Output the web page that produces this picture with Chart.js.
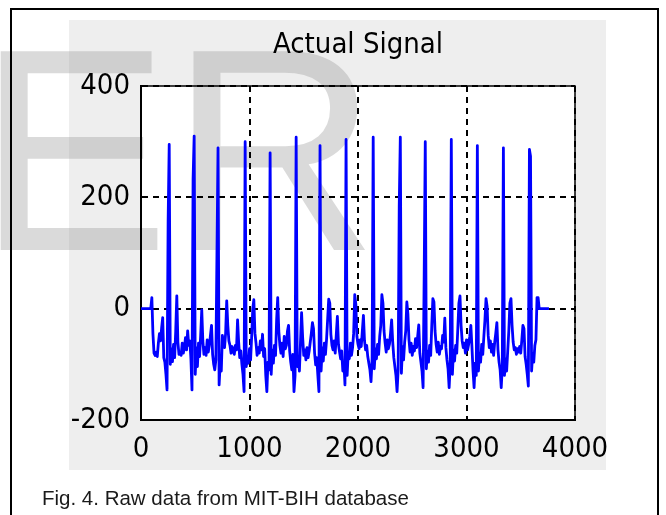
<!DOCTYPE html>
<html>
<head>
<meta charset="utf-8">
<title>Actual Signal</title>
<script src="https://cdn.jsdelivr.net/npm/chart.js@4"></script>
<style>
    html, body { margin: 0; padding: 0; background: #fff; }
    canvas { display: block; }
</style>
</head>
<body>
<canvas id="signalChart" width="666" height="515"></canvas>
<script>
'use strict';

/** Raw ECG record plot */

const SAMPLE_STEP = 10; // samples between stored points

// amplitude, one stored point every SAMPLE_STEP samples (one beat per row)
const signal = [
    0, 0, 0, 0, 0, 0, 0, 0, 0, 0, 20, -45, -80, -84, -78, -86, -62, -45, -58, -35, -16, -88, -96, -118, -146, 156,
    295, -100, -72, -95, -64, -88, -40, 23, -60, -82, -78, -84, -62, -80, -70, -52, -74, -40, -66, -58, -90, -146, 232,
    310, -118, -70, -104, -62, -86, -48, -2, -58, -82, -70, -84, -56, -78, -66, -48, -30, -82, -100, -110, -92, 97,
    289, -137, -98, -112, -48, -62, -70, -44, 14, -30, -58, -66, -80, -68, -76, -82, -66, -74, -20, -60, -88, -76, -100, -118, -149,
    300, -104, -88, -98, -72, -92, -50, 0, 16, -44, -62, -84, -70, -80, -58, -74, -46, -86, -72, -120, -149, -96, -110,
    280, -118, -74, -98, -66, -84, -20, 20, -40, -66, -80, -62, -86, -50, -72, -66, -40, -30, -76, -96, -110, -82, -149, -120,
    308, -104, -88, -112, -60, -7, -52, -84, -74, -92, -70, -88, -76, -60, -44, -25, -36, -80, -101, -88, -120, -149,
    293, -112, -70, -94, -62, -82, -56, -20, 17, 10, -46, -66, -74, -58, -80, -46, -14, -64, -78, -90, -76, -112, -96, -137,
    304, -120, -78, -90, -62, -84, -70, -44, 25, 8, -50, -64, -72, -56, -68, -40, -12, -58, -74, -66, -86, -98, -110, -131, -90,
    308, -108, -72, -90, -64, -82, -50, -30, 25, 10, -40, -62, -78, -56, -72, -64, -44, -20, -60, -88, -104, -120, -149, -110, 184,
    308, -116, -68, -92, -60, -40, 12, -10, -56, -78, -62, -84, -68, -76, -54, -70, -50, -29, -80, -96, -112, -142, 61,
    300, -108, -76, -96, -66, -84, -30, 18, 12, -40, -64, -78, -60, -82, -68, -72, -48, -60, -17, -70, -92, -108, -142, -100,
    304, -118, -74, -94, -66, -80, -36, 10, 23, -30, -58, -70, -62, -80, -56, -74, -64, -50, -30, -68, -110, -142, -98, -120,
    293, -112, -80, -96, -64, -82, -50, -20, 18, 4, -48, -70, -58, -78, -64, -84, -60, -44, -25, -74, -96, -110, -142, -104,
    289, -120, -90, -112, -76, -40, 10, 18, -30, -60, -74, -70, -82, -72, -78, -68, -80, -56, -30, -36, -86, -100, -118, -139,
    286, 274, -112, -80, -96, -66, -56, 20, 20, 0, 0, 0, 0, 0, 0, 0, 0, 0, 0,
];

const xTicks = [0, 1000, 2000, 3000, 4000];
const yTicks = [-200, 0, 200, 400];

const titleText = 'Actual Signal';
const captionText = 'Fig. 4. Raw data from MIT-BIH database';
const stampText = 'ER';

const axisFont = '"DejaVu Sans Condensed", "Liberation Sans", Arial, sans-serif';
const plainFont = '"Liberation Sans", Arial, sans-serif';

// page furniture: frame, grey panel, watermark, caption
const figureBackdrop = {
    id: 'figureBackdrop',
    beforeDraw(chart) {
        const { ctx, chartArea } = chart;
        ctx.save();
        ctx.fillStyle = '#ffffff';
        ctx.fillRect(0, 0, chart.width, chart.height);
        ctx.fillStyle = '#eeeeee';
        ctx.fillRect(69, 20, 537, 450);
        ctx.fillStyle = '#ffffff';
        ctx.fillRect(chartArea.left, chartArea.top, chartArea.right - chartArea.left, chartArea.bottom - chartArea.top);

        ctx.font = '289px ' + plainFont;
        ctx.fillStyle = 'rgba(150, 150, 150, 0.35)';
        ctx.textBaseline = 'alphabetic';
        ctx.fillText(stampText, -23, 250);

        ctx.strokeStyle = '#000';
        ctx.lineWidth = 2;
        ctx.beginPath();
        ctx.moveTo(11, chart.height);
        ctx.lineTo(11, 9);
        ctx.lineTo(658, 9);
        ctx.lineTo(658, chart.height);
        ctx.stroke();

        ctx.fillStyle = '#1a1a1a';
        ctx.font = '20.5px ' + plainFont;
        ctx.fillText(captionText, 42, 505);
        ctx.restore();
    },
    afterDatasetsDraw(chart) {
        const { ctx, chartArea } = chart;
        ctx.save();
        ctx.strokeStyle = '#000';
        ctx.lineWidth = 1.5;
        ctx.beginPath();
        ctx.moveTo(chartArea.left, chartArea.top);
        ctx.lineTo(chartArea.right, chartArea.top);
        ctx.lineTo(chartArea.right, chartArea.bottom);
        ctx.stroke();
        ctx.restore();
    },
};

const points = signal.map((v, i) => ({ x: i * SAMPLE_STEP, y: v }));

const signalChart = new Chart(document.getElementById('signalChart').getContext('2d'), {
    type: 'line',
    data: {
        datasets: [
            {
                data: points,
                borderColor: '#0000ff',
                borderWidth: 2.8,
                borderJoinStyle: 'round',
                pointRadius: 0,
                tension: 0,
                fill: false,
            },
        ],
    },
    options: {
        responsive: false,
        animation: false,
        events: [],
        layout: { padding: { left: 0, right: 91, top: 0, bottom: 0 } },
        plugins: {
            legend: { display: false },
            tooltip: { enabled: false },
            title: {
                display: true,
                text: titleText,
                color: '#000',
                fullSize: false,
                font: { family: axisFont, size: 29, weight: 'normal' },
                padding: { top: 27.6, bottom: 23.6 },
            },
        },
        scales: {
            x: {
                type: 'linear',
                min: xTicks[0],
                max: xTicks[xTicks.length - 1],
                afterBuildTicks: (scale) => {
                    scale.ticks = xTicks.map((value) => ({ value }));
                },
                afterFit: (scale) => {
                    scale.height = 95;
                    scale.paddingLeft = 0;
                    scale.paddingRight = 0;
                },
                ticks: {
                    color: '#000',
                    padding: 11.6,
                    maxRotation: 0,
                    font: { family: axisFont, size: 29 },
                    callback: (value) => String(value),
                },
                grid: { color: '#000', lineWidth: 2, drawTicks: false },
                border: { display: true, color: '#000', width: 2, dash: [6, 5] },
            },
            y: {
                type: 'linear',
                min: yTicks[0],
                max: yTicks[yTicks.length - 1],
                afterBuildTicks: (scale) => {
                    scale.ticks = yTicks.map((value) => ({ value }));
                },
                afterFit: (scale) => {
                    scale.width = 141;
                    scale.paddingTop = 0;
                    scale.paddingBottom = 0;
                },
                ticks: {
                    color: '#000',
                    padding: 11,
                    font: { family: axisFont, size: 29 },
                    callback: (value) => String(value),
                },
                grid: { color: '#000', lineWidth: 2, drawTicks: false },
                border: { display: true, color: '#000', width: 2, dash: [6, 5] },
            },
        },
    },
    plugins: [figureBackdrop],
});
</script>
</body>
</html>
